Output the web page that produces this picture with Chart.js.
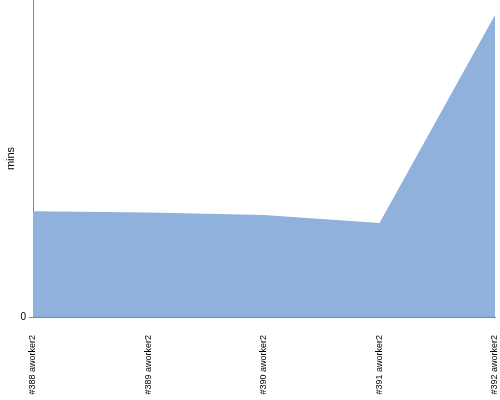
<!DOCTYPE html>
<html>
<head>
<meta charset="utf-8">
<script src="https://cdn.jsdelivr.net/npm/chart.js@4/dist/chart.umd.min.js"></script>
<style>
  html, body { margin: 0; padding: 0; background: #fff; }
  #wrap { width: 500px; height: 400px; }
</style>
</head>
<body>
<div id="wrap"><canvas id="build-chart"></canvas></div>
<script>
// Build labels and durations (minutes)
const buildLabels = ['#388 aworker2', '#389 aworker2', '#390 aworker2', '#391 aworker2', '#392 aworker2'];
const buildMins = [7.0, 6.92, 6.76, 6.22, 20.0];
const yTicks = [0];
const yMax = 21;

// drop the extra padding chart.js reserves for rotated / edge labels
function noPadding(scale) {
    scale.paddingLeft = 0;
    scale.paddingRight = 0;
    scale.paddingTop = 0;
    scale.paddingBottom = 0;
}

const ctx = document.getElementById('build-chart').getContext('2d');
const buildChart = new Chart(ctx, {
    type: 'line',
    data: {
        labels: buildLabels,
        datasets: [{
            label: 'mins',
            data: buildMins,
            borderColor: '#8fb1db',
            backgroundColor: '#8fb1db',
            borderWidth: 0,
            pointRadius: 0,
            tension: 0,
            fill: 'origin'
        }]
    },
    options: {
        responsive: true,
        maintainAspectRatio: false,
        animation: false,
        layout: { padding: { top: 0, right: 5, left: 0, bottom: 0 } },
        plugins: {
            legend: { display: false },
            tooltip: { enabled: false }
        },
        scales: {
            x: {
                offset: false,
                grid: { display: false },
                border: { display: true, color: '#888' },
                ticks: {
                    color: '#000',
                    font: { family: 'Liberation Sans', size: 9 },
                    minRotation: 90,
                    maxRotation: 90,
                    padding: 10,
                    autoSkip: false
                },
                afterFit: (scale) => { scale.height = 83; noPadding(scale); }
            },
            y: {
                min: 0,
                max: yMax,
                grid: { display: true, drawOnChartArea: false, tickLength: 4, color: '#888' },
                border: { display: true, color: '#888' },
                ticks: {
                    color: '#000',
                    font: { family: 'Liberation Sans', size: 10 },
                    padding: 3
                },
                afterBuildTicks: (scale) => { scale.ticks = yTicks.map(v => ({ value: v })); },
                title: {
                    display: true,
                    text: 'mins',
                    color: '#000',
                    font: { family: 'Liberation Sans', size: 11 },
                    padding: { top: 4, bottom: 0 }
                },
                afterFit: (scale) => { scale.width = 33; noPadding(scale); }
            }
        }
    }
});
</script>
</body>
</html>
